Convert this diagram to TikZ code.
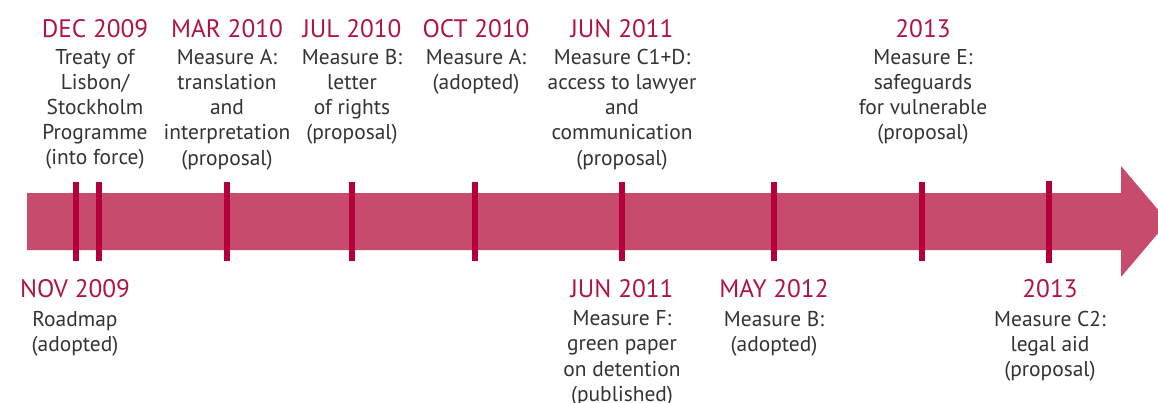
\documentclass[tikz,border=0pt]{standalone}
\usepackage{fontspec}
\setmainfont{PT Sans}
\usepackage{xcolor}
\usetikzlibrary{positioning,calc}

\definecolor{barpink}{HTML}{C64B6D}
\definecolor{tickred}{HTML}{B3003A}
\definecolor{datered}{HTML}{B01442}
\definecolor{bodygray}{HTML}{333333}

\begin{document}
\begin{tikzpicture}[
  x=0.02cm, y=-0.02cm,
  datelbl/.style={anchor=base, inner sep=0pt, text=datered,
                  font=\fontsize{14.4}{17}\selectfont},
  bodylbl/.style={anchor=north, inner sep=0pt, align=center, text=bodygray,
                  font=\fontsize{12.2}{14.3}\selectfont,
                  execute at begin node=\strut},
  datetick/.style={draw=tickred, line width=3.4pt},
]
\useasboundingbox (0,0) rectangle (1158,402);
\clip (0,0) rectangle (1158,402);

% Time arrow
\fill[barpink] (27,193) -- (1121,193) -- (1121,166) -- (1168,221.5)
  -- (1121,277) -- (1121,250) -- (27,250) -- cycle;

% Event ticks on the arrow
\foreach \x in {76,99,227,352,475,622,774,922} {\draw[datetick] (\x,182) -- (\x,261);}
\draw[datetick] (1049,181) -- (1049,263);

% Events above the arrow
\node[datelbl] (dec09) at (95,38) {DEC 2009};
\node[bodylbl] (dec09t) at ($(dec09.base)+(0,11)$)
  {Treaty of\\Lisbon/\\Stockholm\\Programme\\(into force)};

\node[datelbl] (mar10) at (227,38) {MAR 2010};
\node[bodylbl] (mar10t) at ($(mar10.base)+(0,11)$)
  {Measure A:\\translation\\and\\interpretation\\(proposal)};

\node[datelbl] (jul10) at (352,38) {JUL 2010};
\node[bodylbl] (jul10t) at ($(jul10.base)+(0,11)$)
  {Measure B:\\letter\\of rights\\(proposal)};

\node[datelbl] (oct10) at (476,38) {OCT 2010};
\node[bodylbl] (oct10t) at ($(oct10.base)+(0,11)$)
  {Measure A:\\(adopted)};

\node[datelbl] (jun11a) at (622,38) {JUN 2011};
\node[bodylbl] (jun11at) at ($(jun11a.base)+(0,11)$)
  {Measure C1+D:\\access to lawyer\\and\\communication\\(proposal)};

\node[datelbl] (y13a) at (923,38) {2013};
\node[bodylbl] (y13at) at ($(y13a.base)+(0,11)$)
  {Measure E:\\safeguards\\for vulnerable\\(proposal)};

% Events below the arrow
\node[datelbl] (nov09) at (75,297) {NOV 2009};
\node[bodylbl] (nov09t) at ($(nov09.base)+(0,13.5)$)
  {Roadmap\\(adopted)};

\node[datelbl] (jun11b) at (622,297) {JUN 2011};
\node[bodylbl] (jun11bt) at ($(jun11b.base)+(0,13.5)$)
  {Measure F:\\green paper\\on detention\\(published)};

\node[datelbl] (may12) at (774,297) {MAY 2012};
\node[bodylbl] (may12t) at ($(may12.base)+(0,13.5)$)
  {Measure B:\\(adopted)};

\node[datelbl] (y13b) at (1050,297) {2013};
\node[bodylbl] (y13bt) at ($(y13b.base)+(0,13.5)$)
  {Measure C2:\\legal aid\\(proposal)};

\end{tikzpicture}
\end{document}
